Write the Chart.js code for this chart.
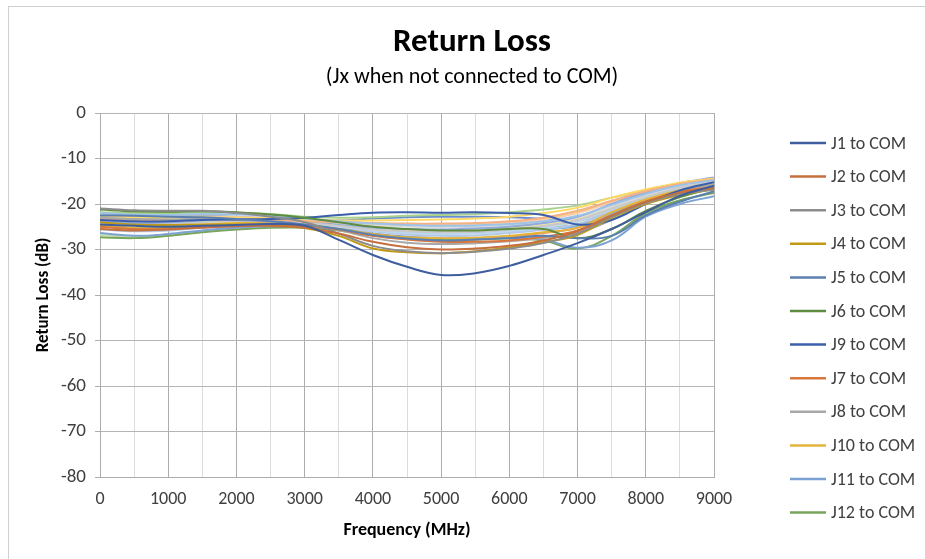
<!DOCTYPE html>
<html>
<head>
<meta charset="utf-8">
<script src="https://cdn.jsdelivr.net/npm/chart.js@4.4.0/dist/chart.umd.min.js"></script>
<style>
    body { margin: 0; background: #fff; }
    #wrap { width: 925px; height: 559px; position: relative; }
</style>
</head>
<body>
<div id="wrap"><canvas id="canvas"></canvas></div>
<script>
const frequencies = [0, 500, 1000, 1500, 2000, 2500, 3000, 3500, 4000, 4500, 5000, 5500, 6000, 6500, 7000, 7500, 8000, 8500, 9000]
const yTicks = [0, -10, -20, -30, -40, -50, -60, -70, -80]

// the 12 series that are in the legend
const j1 = [-24.5, -24.8, -25.0, -24.8, -24.6, -24.4, -24.8, -27.9, -31.2, -33.8, -35.6, -35.2, -33.6, -31.2, -28.6, -25.5, -21.8, -18.2, -16.0]
const j2 = [-25.5, -25.8, -25.6, -25.2, -24.9, -24.8, -25.2, -26.5, -28.3, -29.5, -30.0, -29.8, -29.2, -28.0, -26.0, -22.5, -19.5, -17.5, -16.5]
const j3 = [-21.0, -21.4, -21.5, -21.5, -22.0, -22.8, -24.0, -26.5, -29.2, -30.4, -30.8, -30.5, -29.8, -28.6, -26.5, -22.8, -19.8, -17.8, -16.8]
const j4 = [-24.0, -24.5, -24.6, -24.5, -24.5, -24.7, -25.3, -27.0, -29.8, -30.6, -30.8, -30.4, -29.5, -28.4, -26.8, -23.0, -20.0, -18.0, -16.8]
const j5 = [-22.5, -22.6, -22.8, -22.9, -23.3, -23.8, -24.5, -25.5, -26.8, -27.6, -28.0, -27.8, -27.5, -27.0, -27.5, -27.0, -22.5, -19.5, -17.2]
const j6 = [-21.2, -21.6, -21.7, -21.6, -21.8, -22.3, -23.0, -24.0, -25.0, -25.5, -25.8, -25.8, -25.5, -25.5, -27.5, -25.5, -21.5, -18.5, -16.5]
const j9 = [-23.5, -23.8, -23.8, -23.5, -23.4, -23.3, -23.0, -22.4, -21.9, -21.8, -21.9, -21.8, -22.0, -22.4, -24.5, -23.5, -20.0, -17.0, -15.2]
const j7 = [-25.0, -25.5, -25.5, -25.0, -24.6, -24.5, -24.8, -25.6, -27.0, -27.8, -28.3, -28.3, -28.0, -27.2, -25.8, -22.5, -19.5, -17.3, -16.3]
const j8 = [-23.0, -23.3, -23.4, -23.3, -23.5, -23.9, -24.6, -25.8, -27.5, -28.5, -28.8, -28.6, -28.2, -27.5, -26.4, -23.5, -19.8, -17.3, -15.8]
const j10 = [-24.8, -25.3, -25.2, -24.6, -24.2, -24.2, -24.6, -25.5, -26.6, -27.3, -27.5, -27.4, -27.0, -26.2, -25.2, -21.8, -19.0, -17.0, -15.8]
const j11 = [-26.4, -27.0, -26.6, -25.8, -25.2, -24.9, -24.9, -25.5, -26.5, -27.2, -27.5, -27.6, -27.5, -27.8, -29.6, -28.0, -22.8, -20.0, -18.3]
const j12 = [-27.3, -27.5, -27.0, -26.2, -25.6, -25.2, -25.2, -25.8, -26.8, -27.5, -27.8, -27.8, -27.6, -28.0, -29.8, -27.0, -22.0, -19.2, -17.6]

// the pale series drawn in the plot but cut from the legend
const j13 = [-22.0, -22.3, -22.4, -22.2, -22.3, -22.6, -23.2, -23.8, -24.3, -24.6, -24.8, -24.7, -24.4, -23.8, -22.6, -20.2, -17.8, -15.9, -14.8]
const j14 = [-23.2, -23.6, -23.7, -23.4, -23.3, -23.5, -23.8, -24.0, -24.2, -24.3, -24.3, -24.2, -23.8, -23.0, -21.5, -19.3, -17.2, -15.6, -14.6]
const j15 = [-24.2, -24.6, -24.5, -24.0, -23.8, -23.8, -24.2, -24.8, -25.6, -26.0, -26.2, -26.1, -25.6, -24.8, -23.5, -21.0, -18.5, -16.4, -15.2]
const j16 = [-22.6, -22.9, -23.0, -22.9, -23.0, -23.2, -23.5, -23.6, -23.6, -23.5, -23.4, -23.2, -22.8, -22.0, -20.8, -18.6, -16.8, -15.3, -14.4]
const j17 = [-23.8, -24.2, -24.1, -23.8, -23.6, -23.7, -24.0, -24.6, -25.2, -25.5, -25.6, -25.4, -25.0, -24.2, -22.8, -20.0, -17.4, -15.4, -14.2]
const j18 = [-21.8, -22.0, -22.0, -21.8, -21.9, -22.2, -22.8, -23.0, -22.9, -22.6, -22.4, -22.2, -21.8, -21.2, -20.3, -18.6, -16.9, -15.5, -14.6]
const j19 = [-25.0, -25.4, -25.2, -24.8, -24.4, -24.3, -24.5, -25.0, -25.8, -26.4, -26.6, -26.5, -26.0, -25.2, -23.8, -21.2, -18.6, -16.5, -15.3]
const j20 = [-22.8, -23.1, -23.1, -22.9, -22.9, -23.1, -23.5, -23.9, -24.2, -24.4, -24.5, -24.4, -24.1, -23.4, -22.0, -19.6, -17.4, -15.8, -14.8]
const j21 = [-23.5, -23.9, -23.9, -23.6, -23.5, -23.6, -23.9, -24.3, -24.7, -25.0, -25.1, -25.0, -24.7, -24.0, -22.9, -20.6, -18.1, -16.1, -15.0]
const j22 = [-24.4, -24.8, -24.8, -24.4, -24.1, -24.1, -24.4, -24.9, -25.4, -25.7, -25.8, -25.7, -25.3, -24.5, -23.2, -20.8, -18.3, -16.2, -15.0]
const j23 = [-25.6, -26.0, -25.8, -25.2, -24.8, -24.6, -24.7, -25.2, -26.0, -26.7, -27.0, -26.9, -26.4, -25.6, -24.4, -21.6, -18.9, -16.7, -15.4]
const j24 = [-26.8, -27.2, -26.9, -26.0, -25.3, -24.9, -24.8, -25.0, -25.4, -25.6, -25.7, -25.6, -25.2, -24.5, -23.4, -21.0, -18.4, -16.4, -15.2]
const j25 = [-23.0, -23.4, -23.5, -23.3, -23.3, -23.6, -24.2, -25.0, -25.9, -26.4, -26.5, -26.4, -26.0, -25.6, -24.8, -22.0, -19.0, -16.8, -15.6]
const j26 = [-24.6, -25.0, -25.0, -24.6, -24.3, -24.3, -24.7, -25.6, -26.9, -27.6, -27.9, -27.8, -27.3, -26.4, -25.2, -22.4, -19.4, -17.1, -15.9]
const j27 = [-22.2, -22.6, -22.7, -22.6, -22.8, -23.2, -23.9, -24.7, -25.5, -25.9, -26.0, -25.9, -25.5, -24.9, -23.8, -21.4, -18.8, -16.6, -15.4]
const j28 = [-23.6, -24.0, -24.1, -23.8, -23.7, -23.8, -24.1, -24.4, -24.7, -24.8, -24.8, -24.6, -24.2, -23.3, -21.9, -19.5, -17.5, -15.8, -14.8]
const j29 = [-22.4, -22.7, -22.8, -22.7, -22.9, -23.2, -23.6, -23.6, -23.2, -22.9, -22.8, -22.8, -22.9, -23.2, -23.4, -21.5, -18.9, -16.7, -15.4]
const j30 = [-23.4, -23.8, -23.8, -23.5, -23.5, -23.7, -24.1, -24.7, -25.3, -25.6, -25.8, -25.7, -25.4, -25.0, -24.6, -22.6, -19.6, -17.3, -15.9]

const seriesNames = [
    'J1 to COM', 'J2 to COM', 'J3 to COM', 'J4 to COM', 'J5 to COM', 'J6 to COM',
    'J9 to COM', 'J7 to COM', 'J8 to COM', 'J10 to COM', 'J11 to COM', 'J12 to COM',
    'J13 to COM', 'J14 to COM', 'J15 to COM', 'J16 to COM', 'J17 to COM', 'J18 to COM',
    'J19 to COM', 'J20 to COM', 'J21 to COM', 'J22 to COM', 'J23 to COM', 'J24 to COM',
    'J25 to COM', 'J26 to COM', 'J27 to COM', 'J28 to COM', 'J29 to COM', 'J30 to COM'
]
const seriesValues = [
    j1, j2, j3, j4, j5, j6, j9, j7, j8, j10, j11, j12,
    j13, j14, j15, j16, j17, j18, j19, j20, j21, j22, j23, j24,
    j25, j26, j27, j28, j29, j30
]
const seriesColors = [
    '#3F5E9E', '#C5703E', '#8C8C8C', '#C09A14', '#5A80B0', '#5E8C40',
    '#3B5FAA', '#D9763C', '#A8A8A8', '#E4B43A', '#7BA2D2', '#79A55A',
    '#9DC3E6', '#F4B183', '#C9C9C9', '#FFD966', '#8FAADC', '#A9D18E',
    '#BDD7EE', '#F8CBAD', '#DBDBDB', '#FFE699', '#B4C7E7', '#C5E0B4',
    '#7CAFDD', '#F1975A', '#B7B7B7', '#FFCD33', '#698ED0', '#8CC168'
]
const legendCount = 12

const fontFamily = 'Carlito, Calibri, Lato, sans-serif'

const datasets = seriesValues.map((values, i) => ({
    label: seriesNames[i],
    data: values.map((v, k) => ({ x: frequencies[k], y: v })),
    borderColor: seriesColors[i],
    backgroundColor: seriesColors[i],
    borderWidth: 2,
    pointRadius: 0,
    tension: 0.4,
    fill: false
}))

// titles, legend and chart frame are drawn by hand so they sit where Excel put them
const chartDecor = {
    id: 'chartDecor',
    beforeDraw: chart => {
        const ctx = chart.ctx
        ctx.save()
        ctx.fillStyle = '#fff'
        ctx.fillRect(0, 0, chart.width, chart.height)
        ctx.strokeStyle = '#D0D0D0'
        ctx.lineWidth = 1
        ctx.strokeRect(8.5, 6.5, 940, 600)
        ctx.restore()
    },
    afterDraw: chart => {
        const ctx = chart.ctx
        ctx.save()
        ctx.textAlign = 'center'
        ctx.textBaseline = 'middle'
        ctx.fillStyle = '#000'
        ctx.font = `bold 33px ${fontFamily}`
        ctx.fillText('Return Loss', 472, 43)
        ctx.font = `22px ${fontFamily}`
        ctx.fillText('(Jx when not connected to COM)', 472, 77)

        ctx.textAlign = 'left'
        ctx.font = `18px ${fontFamily}`
        for (let i = 0; i < legendCount; i++) {
            const y = 143 + i * 33.6
            ctx.strokeStyle = seriesColors[i]
            ctx.lineWidth = 2.5
            ctx.beginPath()
            ctx.moveTo(790, y)
            ctx.lineTo(826, y)
            ctx.stroke()
            ctx.fillStyle = '#404040'
            ctx.fillText(seriesNames[i], 831, y + 1)
        }
        ctx.restore()
    }
}

const plotChart = () => {
    const ctx = document.querySelector('#canvas').getContext('2d')
    const myChart = new Chart(ctx, {
        type: 'line',
        data: { datasets },
        options: {
            responsive: true,
            maintainAspectRatio: false,
            animation: false,
            devicePixelRatio: 1,
            layout: { padding: { top: 113, left: 0, right: 211, bottom: 0 } },
            plugins: {
                legend: { display: false },
                title: { display: false },
                tooltip: { enabled: false }
            },
            scales: {
                x: {
                    type: 'linear',
                    min: 0,
                    max: 9000,
                    afterFit: scale => { scale.height = 82 },
                    afterBuildTicks: scale => {
                        scale.ticks = frequencies.map(f => ({ value: f }))
                    },
                    ticks: {
                        autoSkip: false,
                        maxRotation: 0,
                        padding: 12,
                        color: '#404040',
                        font: { family: fontFamily, size: 18 },
                        callback: v => v % 1000 === 0 ? String(v) : ''
                    },
                    grid: {
                        drawTicks: false,
                        color: c => c.tick && c.tick.value % 1000 === 0 ? '#ADADAD' : '#DCDCDC',
                        lineWidth: 1
                    },
                    border: { color: '#ADADAD' },
                    title: {
                        display: true,
                        text: 'Frequency (MHz)',
                        color: '#000',
                        font: { family: fontFamily, size: 18, weight: 'bold' },
                        padding: { top: 0, bottom: 18 }
                    }
                },
                y: {
                    min: -80,
                    max: 0,
                    afterFit: scale => { scale.width = 100 },
                    afterBuildTicks: scale => {
                        scale.ticks = yTicks.map(v => ({ value: v }))
                    },
                    ticks: {
                        padding: 9,
                        color: '#404040',
                        font: { family: fontFamily, size: 19 }
                    },
                    grid: {
                        color: '#B4B4B4',
                        tickLength: 5,
                        tickColor: '#ADADAD'
                    },
                    border: { color: '#ADADAD' },
                    title: {
                        display: true,
                        text: 'Return Loss (dB)',
                        color: '#000',
                        font: { family: fontFamily, size: 17, weight: 'bold' },
                        padding: { top: 34, bottom: 0 }
                    }
                }
            }
        },
        plugins: [chartDecor]
    })
}

plotChart()
</script>
</body>
</html>
